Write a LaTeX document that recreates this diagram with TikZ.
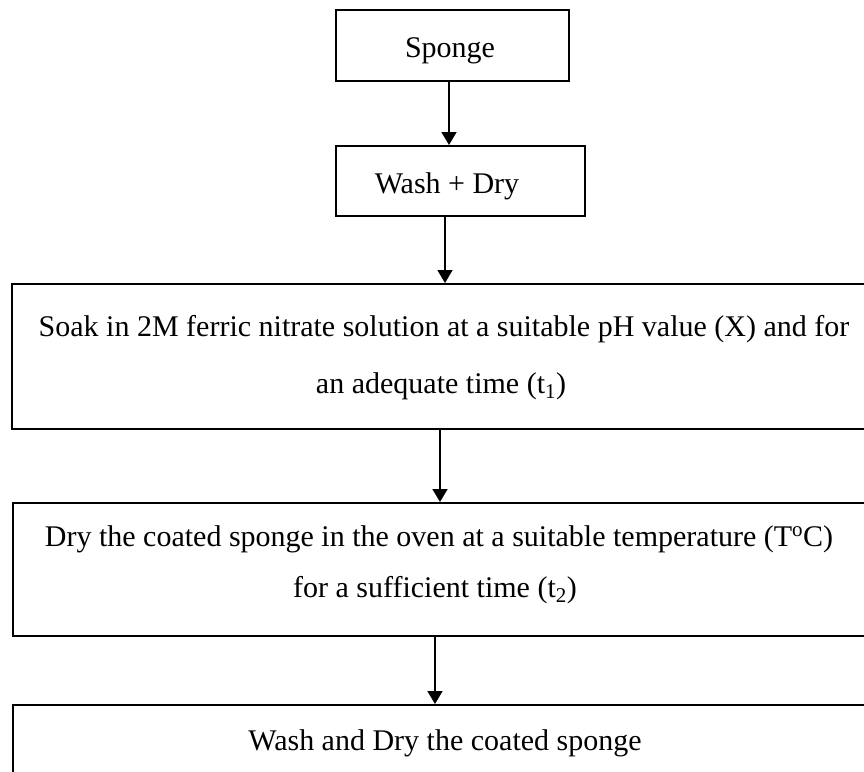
\documentclass[tikz,border=0pt]{standalone}
\usepackage{fontspec}
\setmainfont{Liberation Serif}
\usetikzlibrary{arrows.meta}
\tikzset{
  stepbox/.style={draw=black, line width=2pt, rectangle, inner sep=0pt, anchor=north west},
  txt/.style={anchor=base, inner sep=0pt, font=\fontsize{30}{36}\selectfont},
  arr/.style={line width=1.6pt, -{Triangle[length=13pt,width=15pt]}}
}
\begin{document}
\begin{tikzpicture}[x=1pt,y=-1pt]
\useasboundingbox (0,0) rectangle (864,771);
\clip (0,0) rectangle (864,771);
\fill[white] (0,0) rectangle (864,771);
% boxes
\node[stepbox, minimum width=233pt, minimum height=71pt] (b1) at (335,9) {};
\node[stepbox, minimum width=249pt, minimum height=70pt] (b2) at (335,145) {};
\node[stepbox, minimum width=870pt, minimum height=145pt] (b3) at (11,283) {};
\node[stepbox, minimum width=858pt, minimum height=133pt] (b4) at (12,502) {};
\node[stepbox, minimum width=870pt, minimum height=120pt] (b5) at (12,704) {};
% texts
\node[txt] (t1) at (450,57) {Sponge};
\node[txt] (t2) at (447,193) {Wash + Dry};
\node[txt] (t3a) at (444,336) {Soak in 2M ferric nitrate solution at a suitable pH value (X) and for};
\node[txt] (t3b) at (441,393) {an adequate time (t\textsubscript{1})};
\node[txt] (t4a) at (439,546) {Dry the coated sponge in the oven at a suitable temperature (T\textsuperscript{o}C)};
\node[txt] (t4b) at (435,597) {for a sufficient time (t\textsubscript{2})};
\node[txt] (t5) at (445,750) {Wash and Dry the coated sponge};
% arrow columns
\coordinate (c1) at (449,0);
\coordinate (c2) at (445,0);
\coordinate (c3) at (440,0);
\coordinate (c4) at (435,0);
\draw[arr] (b1.south -| c1) -- (b2.north -| c1);
\draw[arr] (b2.south -| c2) -- (b3.north -| c2);
\draw[arr] (b3.south -| c3) -- (b4.north -| c3);
\draw[arr] (b4.south -| c4) -- (b5.north -| c4);
\end{tikzpicture}
\end{document}
